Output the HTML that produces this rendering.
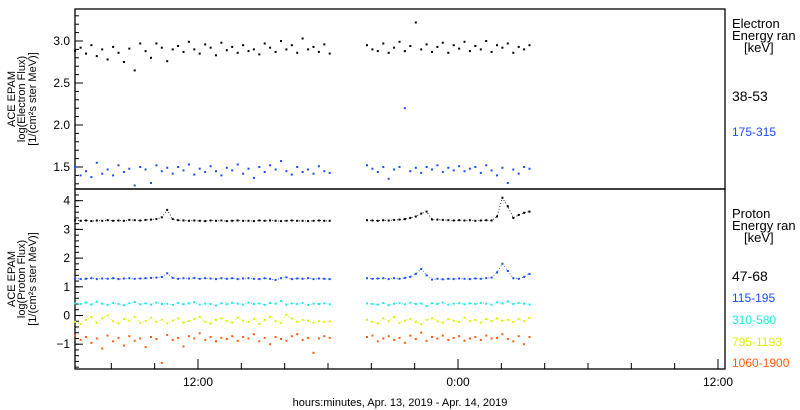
<!DOCTYPE html>
<html><head><meta charset="utf-8"><style>
html,body{margin:0;padding:0;background:#fff;}
svg{display:block;font-family:"Liberation Sans",sans-serif;}
</style></head><body>
<svg id="chart" width="800" height="410" viewBox="0 0 800 410" xmlns="http://www.w3.org/2000/svg">
<rect x="0" y="0" width="800" height="410" fill="#fff"/>
<g id="frames">
<rect x="75" y="9" width="650" height="180" fill="none" stroke="#000" stroke-width="1.3"/>
<rect x="75" y="189" width="650" height="180" fill="none" stroke="#000" stroke-width="1.3"/>
</g>
<g id="ticks" stroke="#000" stroke-width="1"></g>
<g id="ticklabels" font-size="12" fill="#000"></g>
<g id="marks"></g>
<g font-size="11" text-anchor="middle">
<text transform="translate(15,99) rotate(-90)">ACE EPAM</text>
<text transform="translate(25,99) rotate(-90)">log(Electron Flux)</text>
<text transform="translate(36,99) rotate(-90)">[1/(cm²s ster MeV)]</text>
</g>
<g font-size="11" text-anchor="middle">
<text transform="translate(15,279) rotate(-90)">ACE EPAM</text>
<text transform="translate(25,279) rotate(-90)">log(Proton Flux)</text>
<text transform="translate(36,279) rotate(-90)">[1/(cm²s ster MeV)]</text>
</g>
<text x="400" y="406" font-size="11" text-anchor="middle">hours:minutes, Apr. 13, 2019 - Apr. 14, 2019</text>
<g font-size="13">
<text x="732" y="28">Electron</text>
<text x="732" y="40">Energy ran</text>
<text x="744" y="52">[keV]</text>
<text x="732" y="101" font-size="14">38-53</text>
<text x="732" y="136" font-size="12" fill="#1a4dff">175-315</text>
</g>
<g font-size="13">
<text x="732" y="218">Proton</text>
<text x="732" y="230">Energy ran</text>
<text x="744" y="242">[keV]</text>
<text x="732" y="281" font-size="14">47-68</text>
<text x="732" y="302" font-size="12" fill="#1a4dff">115-195</text>
<text x="732" y="324" font-size="12" fill="#20e8e8">310-580</text>
<text x="732" y="346" font-size="12" fill="#e0f000">795-1193</text>
<text x="732" y="367" font-size="12" fill="#ff5a10">1060-1900</text>
</g>
</svg>
<script>
// time grid (hours since Apr 13 00:00)
const seg1Start = 6.33, seg2Start = 19.8, stepH = 0.25;
const xTickLabels = ["12:00","0:00","12:00"];
const xTickHours = [12, 24, 36];
const eYTicks = [1.5, 2.0, 2.5, 3.0];
const eYTickLabels = ["1.5","2.0","2.5","3.0"];
const pYTicks = [-1, 0, 1, 2, 3, 4];
const pYTickLabels = ["\u22121","0","1","2","3","4"];

const e38seg1 = [2.88,2.92,2.85,2.95,2.82,2.9,2.78,2.93,2.86,2.75,2.91,2.65,2.97,2.88,2.8,2.97,2.92,2.76,2.9,2.94,2.87,2.99,2.9,2.85,2.96,2.92,2.83,2.98,2.89,2.93,2.86,2.95,2.88,2.9,2.84,2.97,2.92,2.87,3.0,2.9,2.95,2.86,3.03,2.9,2.93,2.87,2.96,2.85];
const e38seg2 = [2.95,2.9,2.88,2.97,2.86,2.92,2.99,2.88,2.94,3.22,2.9,2.96,2.87,2.93,2.98,2.86,2.95,2.91,2.99,2.88,2.94,2.9,3.0,2.87,2.95,2.92,2.97,2.86,2.93,2.9,2.95];
const e175seg1 = [1.5,1.4,1.45,1.38,1.55,1.42,1.47,1.4,1.52,1.44,1.48,1.28,1.5,1.47,1.31,1.52,1.45,1.49,1.42,1.5,1.46,1.53,1.41,1.48,1.44,1.51,1.45,1.4,1.49,1.46,1.53,1.42,1.48,1.37,1.5,1.44,1.52,1.47,1.57,1.45,1.41,1.5,1.44,1.47,1.42,1.51,1.45,1.43];
const e175seg2 = [1.52,1.48,1.44,1.5,1.36,1.47,1.5,2.2,1.45,1.49,1.43,1.5,1.47,1.52,1.44,1.49,1.46,1.51,1.45,1.48,1.5,1.43,1.52,1.46,1.4,1.49,1.31,1.47,1.42,1.5,1.48];

const p47seg1 = [3.32,3.3,3.31,3.29,3.31,3.3,3.32,3.3,3.31,3.3,3.33,3.32,3.31,3.33,3.34,3.36,3.42,3.68,3.36,3.32,3.31,3.3,3.31,3.3,3.29,3.31,3.3,3.31,3.29,3.3,3.31,3.3,3.3,3.29,3.31,3.3,3.31,3.3,3.29,3.3,3.31,3.3,3.3,3.29,3.3,3.31,3.3,3.3];
const p47seg2 = [3.32,3.31,3.3,3.32,3.31,3.33,3.34,3.36,3.4,3.45,3.55,3.62,3.35,3.34,3.33,3.32,3.31,3.32,3.31,3.32,3.3,3.31,3.32,3.31,3.45,4.1,3.8,3.4,3.5,3.58,3.62];
const p115seg1 = [1.3,1.27,1.28,1.3,1.27,1.29,1.28,1.3,1.27,1.29,1.3,1.28,1.29,1.3,1.31,1.32,1.34,1.47,1.31,1.28,1.3,1.29,1.31,1.28,1.3,1.29,1.27,1.3,1.28,1.3,1.27,1.29,1.3,1.28,1.27,1.3,1.28,1.24,1.3,1.33,1.27,1.29,1.28,1.3,1.27,1.29,1.28,1.27];
const p115seg2 = [1.3,1.28,1.29,1.3,1.27,1.3,1.28,1.31,1.35,1.45,1.62,1.4,1.25,1.28,1.26,1.28,1.27,1.29,1.28,1.27,1.29,1.28,1.3,1.32,1.5,1.8,1.55,1.3,1.28,1.35,1.45];
const p310seg1 = [0.42,0.4,0.45,0.38,0.48,0.41,0.37,0.44,0.4,0.36,0.43,0.47,0.39,0.42,0.38,0.45,0.4,0.41,0.37,0.44,0.39,0.42,0.46,0.38,0.41,0.4,0.35,0.43,0.39,0.44,0.41,0.38,0.45,0.4,0.42,0.37,0.44,0.41,0.5,0.38,0.42,0.4,0.44,0.37,0.41,0.4,0.42,0.39];
const p310seg2 = [0.42,0.4,0.38,0.44,0.36,0.41,0.43,0.39,0.45,0.4,0.42,0.32,0.43,0.4,0.45,0.38,0.41,0.43,0.39,0.42,0.4,0.44,0.41,0.38,0.46,0.42,0.49,0.4,0.44,0.41,0.38];
const p795seg1 = [-0.22,-0.3,-0.15,-0.05,-0.25,-0.1,0.0,-0.2,-0.28,-0.12,-0.18,-0.05,-0.25,-0.2,-0.08,-0.22,-0.15,-0.28,-0.18,-0.1,-0.25,-0.2,-0.12,-0.05,-0.22,-0.28,-0.15,-0.1,-0.2,-0.25,-0.08,-0.18,-0.22,-0.12,-0.3,-0.15,-0.05,-0.2,-0.25,0.02,-0.1,-0.22,-0.15,-0.18,-0.25,-0.2,-0.22,-0.2];
const p795seg2 = [-0.15,-0.22,-0.28,-0.1,-0.2,-0.05,-0.25,-0.18,-0.12,-0.22,-0.3,-0.15,-0.1,-0.2,-0.25,-0.12,-0.18,-0.22,-0.08,-0.2,-0.15,-0.25,-0.12,-0.2,-0.1,-0.18,-0.15,-0.22,-0.12,-0.2,-0.08];
const p1060seg1 = [-0.7,-0.85,-0.75,-0.95,-0.8,-1.15,-0.7,-0.9,-0.78,-1.05,-0.72,-0.88,-0.8,-1.1,-0.75,-0.82,-1.65,-0.68,-0.85,-0.78,-1.08,-0.72,-0.8,-0.62,-0.85,-0.75,-0.9,-0.78,-0.82,-0.72,-0.88,-0.75,-0.8,-0.65,-0.9,-0.78,-1.0,-0.75,-0.82,-0.88,-0.72,-0.65,-0.85,-0.78,-1.3,-0.8,-0.72,-0.78];
const p1060seg2 = [-0.75,-0.7,-0.9,-0.8,-0.72,-0.85,-0.78,-0.95,-0.7,-0.82,-0.6,-0.88,-0.75,-0.8,-0.7,-0.85,-0.78,-0.72,-0.88,-0.8,-0.75,-0.85,-0.7,-0.8,-0.78,-0.65,-0.82,-0.9,-0.72,-1.0,-0.75];

const NS = "http://www.w3.org/2000/svg";
function xScale(h){ return 198 + (h - 12) * 260 / 12; }
function yE(v){ return 41 + (3.0 - v) * 84; }
function yP(v){ return 200.7 + (4 - v) * 28.7; }

const ticks = document.getElementById('ticks');
const labels = document.getElementById('ticklabels');
const marks = document.getElementById('marks');
function line(x1,y1,x2,y2,name){
  const l = document.createElementNS(NS,'line');
  l.setAttribute('x1',x1); l.setAttribute('y1',y1); l.setAttribute('x2',x2); l.setAttribute('y2',y2);
  
  
  ticks.appendChild(l);
}
function label(x,y,txt,anchor,name){
  const t = document.createElementNS(NS,'text');
  t.setAttribute('x',x); t.setAttribute('y',y); t.setAttribute('text-anchor',anchor);
  t.textContent = txt;
  
  
  labels.appendChild(t);
}
for (let v = 1.3; v <= 3.35; v += 0.1) {
  const y = yE(v);
  if (y < 10 || y > 188) continue;
  line(75, y, 79, y, 'electron-y-minor-tick');
}
eYTicks.forEach((v,i)=>{
  line(75, yE(v), 83, yE(v), 'electron-y-major-tick');
  label(70, yE(v)+4, eYTickLabels[i], 'end', 'electron-y-tick-label');
});
for (let v = -1.8; v <= 4.4; v += 0.2) {
  const y = yP(v);
  if (y < 190 || y > 368) continue;
  line(75, y, 79, y, 'proton-y-minor-tick');
}
pYTicks.forEach((v,i)=>{
  line(75, yP(v), 83, yP(v), 'proton-y-major-tick');
  label(70, yP(v)+4, pYTickLabels[i], 'end', 'proton-y-tick-label');
});
for (let h = 8; h <= 36; h += 2) {
  const x = xScale(h);
  if (x > 724) continue;
  line(x, 369, x, 363, 'x-minor-tick');
}
xTickHours.forEach((h,i)=>{
  const x = xScale(h);
  line(x, 369, x, 359, 'x-major-tick');
  label(x, 386, xTickLabels[i], 'middle', 'x-tick-label');
});

function series(vals, start, yfn, color, name, connect){
  const g = document.createElementNS(NS,'g');
  
  
  if (connect) {
    const pl = document.createElementNS(NS,'polyline');
    pl.setAttribute('points', vals.map((v,i)=> xScale(start + i*stepH).toFixed(1)+','+yfn(v).toFixed(1)).join(' '));
    pl.setAttribute('fill','none'); pl.setAttribute('stroke',color); pl.setAttribute('stroke-width','0.8');
    pl.setAttribute('stroke-dasharray','1 2');
    
    
    g.appendChild(pl);
  }
  vals.forEach((v,i)=>{
    const r = document.createElementNS(NS,'rect');
    r.setAttribute('x', (xScale(start + i*stepH) - 1).toFixed(1));
    r.setAttribute('y', (yfn(v) - 1).toFixed(1));
    r.setAttribute('width', 2); r.setAttribute('height', 2);
    r.setAttribute('fill', color);
    
    
    g.appendChild(r);
  });
  marks.appendChild(g);
}
series(e38seg1, seg1Start, yE, '#000', 'electron-38-53-seg1', false);
series(e38seg2, seg2Start, yE, '#000', 'electron-38-53-seg2', false);
series(e175seg1, seg1Start, yE, '#1a4dff', 'electron-175-315-seg1', false);
series(e175seg2, seg2Start, yE, '#1a4dff', 'electron-175-315-seg2', false);
series(p47seg1, seg1Start, yP, '#000', 'proton-47-68-seg1', true);
series(p47seg2, seg2Start, yP, '#000', 'proton-47-68-seg2', true);
series(p115seg1, seg1Start, yP, '#1a4dff', 'proton-115-195-seg1', true);
series(p115seg2, seg2Start, yP, '#1a4dff', 'proton-115-195-seg2', true);
series(p310seg1, seg1Start, yP, '#20e8e8', 'proton-310-580-seg1', true);
series(p310seg2, seg2Start, yP, '#20e8e8', 'proton-310-580-seg2', true);
series(p795seg1, seg1Start, yP, '#e0f000', 'proton-795-1193-seg1', true);
series(p795seg2, seg2Start, yP, '#e0f000', 'proton-795-1193-seg2', true);
series(p1060seg1, seg1Start, yP, '#ff5a10', 'proton-1060-1900-seg1', false);
series(p1060seg2, seg2Start, yP, '#ff5a10', 'proton-1060-1900-seg2', false);
</script>
</body></html>
